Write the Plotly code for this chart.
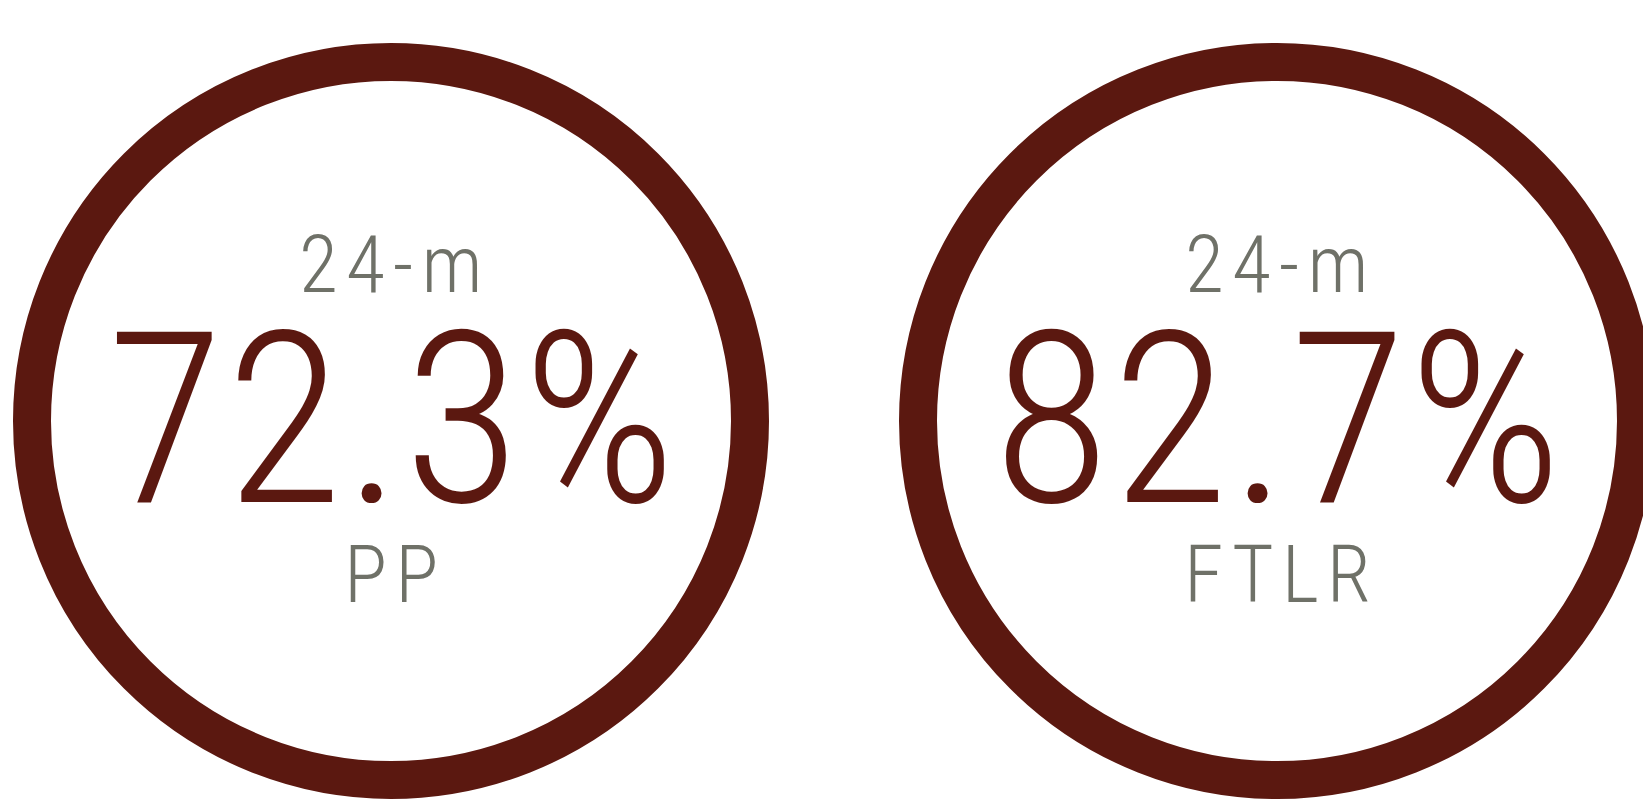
import plotly.graph_objects as go

# ---- data ----
period_labels = ["24-m", "24-m"]
values = [72.3, 82.7]
metric_labels = ["PP", "FTLR"]

RING_COLOR = "#5b1810"
GRAY = "#6f7168"
FONT = "Roboto Condensed, Liberation Sans Narrow, DejaVu Sans Condensed, sans-serif"

W, H = 1651, 811
CX0, DX = 383, 886      # centre of first ring, spacing (px)
CY = 413                # centre y from top (px)
R = 359                 # ring centre-line radius (px)
LW = 38
LS = 8                  # letter spacing of small labels (px)


def spaced(t, ls):
    return f'<span style="letter-spacing:{ls}px">{t}</span>'


fig = go.Figure()

shapes = []
annotations = []
for i, (p, v, m) in enumerate(zip(period_labels, values, metric_labels)):
    cx = CX0 + DX * i
    shapes.append(dict(type="circle", xref="x", yref="y",
                       x0=cx - R, x1=cx + R, y0=CY - R, y1=CY + R,
                       line=dict(color=RING_COLOR, width=LW), fillcolor="rgba(0,0,0,0)"))
    annotations.append(dict(x=cx, y=CY - 156, xref="x", yref="y", text=spaced(p, LS), showarrow=False,
                            font=dict(family=FONT, size=80, color=GRAY, weight=300),
                            xanchor="center", yanchor="middle", xshift=LS / 2))
    annotations.append(dict(x=cx, y=CY - 1, xref="x", yref="y", text=spaced(f"{v:.1f}%", 2),
                            showarrow=False,
                            font=dict(family=FONT, size=240, color=RING_COLOR, weight=300),
                            xanchor="center", yanchor="middle", xshift=1))
    annotations.append(dict(x=cx, y=CY + 154, xref="x", yref="y", text=spaced(m, LS), showarrow=False,
                            font=dict(family=FONT, size=80, color=GRAY, weight=300),
                            xanchor="center", yanchor="middle", xshift=LS / 2))

fig.add_trace(go.Scatter(x=[CX0 + DX * i for i in range(len(values))], y=[CY] * len(values),
                         mode="markers", marker=dict(size=1, opacity=0), hoverinfo="skip",
                         showlegend=False))

fig.update_layout(
    width=W, height=H,
    margin=dict(l=0, r=0, t=0, b=0),
    paper_bgcolor="white", plot_bgcolor="white",
    xaxis=dict(range=[0, W], visible=False, fixedrange=True),
    yaxis=dict(range=[H, 0], visible=False, fixedrange=True),
    shapes=shapes, annotations=annotations, showlegend=False,
)

fig.write_html("out.html")
